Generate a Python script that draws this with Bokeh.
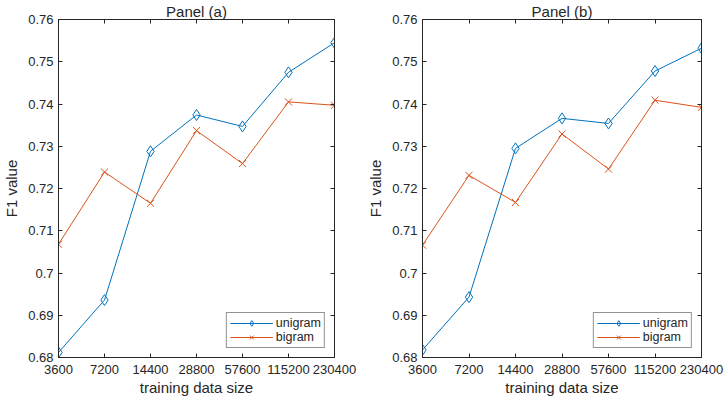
from bokeh.plotting import figure
from bokeh.layouts import row
from bokeh.models import Range1d, FixedTicker, LogAxis, LinearAxis, Legend, LegendItem
from bokeh.embed import file_html
from bokeh.resources import INLINE

sizes = [3600, 7200, 14400, 28800, 57600, 115200, 230400]
size_labels = ["3600", "7200", "14400", "28800", "57600", "115200", "230400"]
y_ticks = [0.68, 0.69, 0.70, 0.71, 0.72, 0.73, 0.74, 0.75, 0.76]
y_tick_labels = ["0.68", "0.69", "0.7", "0.71", "0.72", "0.73", "0.74", "0.75", "0.76"]

unigram_a = [0.6812, 0.6936, 0.7288, 0.7374, 0.7347, 0.7475, 0.7545]
bigram_a = [0.7068, 0.7239, 0.7165, 0.7337, 0.7259, 0.7405, 0.7397]
unigram_b = [0.6818, 0.6943, 0.7295, 0.7366, 0.7354, 0.7478, 0.7532]
bigram_b = [0.7066, 0.7231, 0.7167, 0.7329, 0.7246, 0.7409, 0.7392]

BLUE = "#0072BD"
ORANGE = "#D95319"
AX = "#262626"
FONT = "Liberation Sans"


def style_axis(ax, labels=True):
    ax.axis_line_color = AX
    ax.major_tick_line_color = AX
    ax.minor_tick_line_color = None
    ax.major_tick_in = 4
    ax.major_tick_out = 0
    ax.major_label_text_font = FONT
    ax.major_label_text_color = AX if labels else None
    ax.major_label_text_font_size = "13px" if labels else "0px"
    ax.major_label_standoff = 5 if labels else 0
    ax.axis_label_text_font = FONT
    ax.axis_label_text_font_size = "15px"
    ax.axis_label_text_font_style = "normal"
    ax.axis_label_text_color = AX


def panel(title, uni, bi, left, right):
    p = figure(width=362, height=400, x_axis_type="log",
               x_range=Range1d(sizes[0], sizes[-1]),
               y_range=Range1d(y_ticks[0], y_ticks[-1]),
               output_backend="svg", toolbar_location=None,
               min_border_left=left, min_border_right=right,
               min_border_top=18, min_border_bottom=43)
    p.title.text = title
    p.title.align = "center"
    p.title.text_font = FONT
    p.title.text_font_size = "15px"
    p.title.text_font_style = "normal"
    p.title.text_color = AX
    p.title.standoff = 0
    p.title.offset = 0
    p.grid.visible = False
    p.outline_line_color = AX
    p.background_fill_color = "white"
    p.border_fill_color = "white"

    xt = FixedTicker(ticks=sizes)
    yt = FixedTicker(ticks=y_ticks)
    xover = {s: l for s, l in zip(sizes, size_labels)}
    yover = {t: l for t, l in zip(y_ticks, y_tick_labels)}

    p.xaxis.ticker = xt
    p.xaxis.major_label_overrides = xover
    p.xaxis.axis_label = "training data size"
    p.yaxis.ticker = yt
    p.yaxis.major_label_overrides = yover
    p.yaxis.axis_label = "F1 value"
    style_axis(p.xaxis[0])
    style_axis(p.yaxis[0])
    p.xaxis.major_label_standoff = 7
    p.xaxis.axis_label_standoff = 2
    p.yaxis.axis_label_standoff = 5

    top = LogAxis(ticker=xt)
    style_axis(top, labels=False)
    p.add_layout(top, "above")
    rgt = LinearAxis(ticker=yt)
    style_axis(rgt, labels=False)
    p.add_layout(rgt, "right")

    l1 = p.line(sizes, uni, line_color=BLUE, line_width=1)
    m1 = p.scatter(sizes, uni, marker="diamond", size=11,
                   line_color=BLUE, fill_color=None, line_width=1)
    l2 = p.line(sizes, bi, line_color=ORANGE, line_width=1)
    m2 = p.scatter(sizes, bi, marker="x", size=10, line_color=ORANGE, line_width=1)

    leg = Legend(items=[LegendItem(label="unigram", renderers=[l1, m1]),
                        LegendItem(label="bigram", renderers=[l2, m2])],
                 location="bottom_right")
    leg.label_text_font = FONT
    leg.label_text_font_size = "12.5px"
    leg.label_text_color = AX
    leg.border_line_color = AX
    leg.glyph_width = 43
    leg.glyph_height = 14
    leg.label_height = 14
    leg.spacing = 0
    leg.padding = 3
    leg.margin = 9
    leg.label_standoff = 3
    p.add_layout(leg, "center")
    return p


pa = panel("Panel (a)", unigram_a, bigram_a, 55, 28)
pb = panel("Panel (b)", unigram_b, bigram_b, 60, 23)
layout = row(pa, pb)
open("out.html", "w").write(file_html(layout, INLINE))
